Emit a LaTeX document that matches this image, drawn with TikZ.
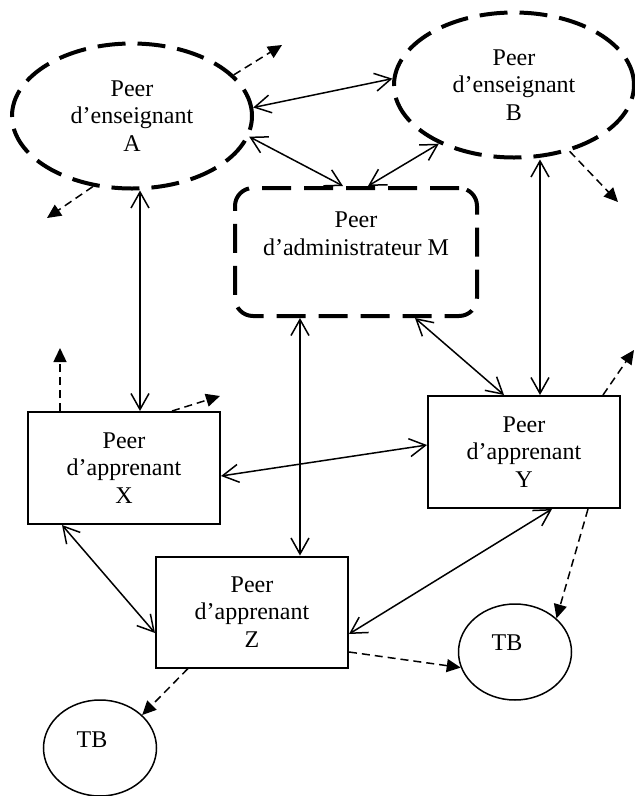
\documentclass[tikz,border=0pt]{standalone}
\usepackage{fontspec}
\setmainfont{Liberation Serif}
\usetikzlibrary{arrows.meta,shapes.geometric}

\begin{document}
\begin{tikzpicture}[x=1pt,y=-1pt,
            font=\fontsize{24pt}{27.5pt}\selectfont,
            teacher/.style={ellipse,draw,line width=4pt,dash pattern=on 28pt off 12pt,minimum width=240pt,minimum height=145pt,inner sep=0pt,align=center},
            adminbox/.style={draw,rounded corners=18pt,line width=4pt,dash pattern=on 29pt off 13pt,minimum width=242pt,minimum height=128pt,inner sep=0pt},
            peerbox/.style={draw,line width=2pt,minimum width=192pt,minimum height=112pt,inner sep=0pt,align=center},
            tbnode/.style={ellipse,draw,line width=1.5pt,minimum width=113pt,minimum height=96pt,inner sep=0pt},
            link/.style={line width=1.5pt,{Straight Barb[length=16pt,width=18pt]}-{Straight Barb[length=16pt,width=18pt]}},
            stub/.style={line width=1.5pt,dash pattern=on 8pt off 5pt,-{Triangle[length=14pt,width=13pt]}}]
            \useasboundingbox (0,0) rectangle (635,796);
            \node[teacher] (a) at (132,116) {Peer\\d’enseignant\\A};
            \node[teacher] (b) at (514,85) {Peer\\d’enseignant\\B};
            \node[adminbox,label={[align=center,yshift=18pt]center:{Peer\\d’administrateur M}}] (m) at (356,252) {};
            \node[peerbox] (x) at (124,468) {Peer\\d’apprenant\\X};
            \node[peerbox] (y) at (524,452) {Peer\\d’apprenant\\Y};
            \node[peerbox,minimum height=111pt] (z) at (252,612) {Peer\\d’apprenant\\Z};
            \node[tbnode,label={[xshift=-8pt,yshift=8pt]center:TB}] (tb1) at (100,748) {};
            \node[tbnode,label={[xshift=-8pt,yshift=9pt]center:TB}] (tb2) at (515,652) {};
            \coordinate (ax) at ([xshift=16pt]x.north);
            \coordinate (by) at ([xshift=16pt]y.north);
            \coordinate (mz) at ([xshift=48pt]z.north);
            \coordinate (oa1) at (282,45);
            \coordinate (oa2) at (47,218);
            \coordinate (ob) at (618,202);
            \coordinate (ox1) at (60,348);
            \coordinate (ox2) at (220,396);
            \coordinate (oy) at (634,350);
            \draw[link] (a.4) -- (b.177);
            \draw[link] (a.-10) -- ([xshift=-13pt]m.north);
            \draw[link] (b.218) -- ([xshift=12pt]m.north);
            \draw[link] (ax |- a.south) -- (ax);
            \draw[link] (by |- b.south) -- (by);
            \draw[link] ([xshift=59pt]m.south) -- ([xshift=-20pt]y.north);
            \draw[link] (mz |- m.south) -- (mz);
            \draw[link] ([yshift=-8pt]x.east) -- ([yshift=7pt]y.west);
            \draw[link] ([xshift=-62pt]x.south) -- ([yshift=-21pt]z.west);
            \draw[link] ([xshift=28pt]y.south) -- ([yshift=-22pt]z.east);
            \draw[stub] (a.22) -- (oa1);
            \draw[stub] (a.241) -- (oa2);
            \draw[stub] (b.-50) -- (ob);
            \draw[stub] ([xshift=-64pt]x.north) -- (ox1);
            \draw[stub] ([xshift=48pt]x.north) -- (ox2);
            \draw[stub] ([xshift=79pt]y.north) -- (oy);
            \draw[stub] ([xshift=64pt]y.south) -- (tb2.39);
            \draw[stub] ([yshift=-40pt]z.east) -- (tb2.196);
            \draw[stub] ([xshift=-64pt]z.south) -- (tb1.38);
        \end{tikzpicture}
\end{document}
